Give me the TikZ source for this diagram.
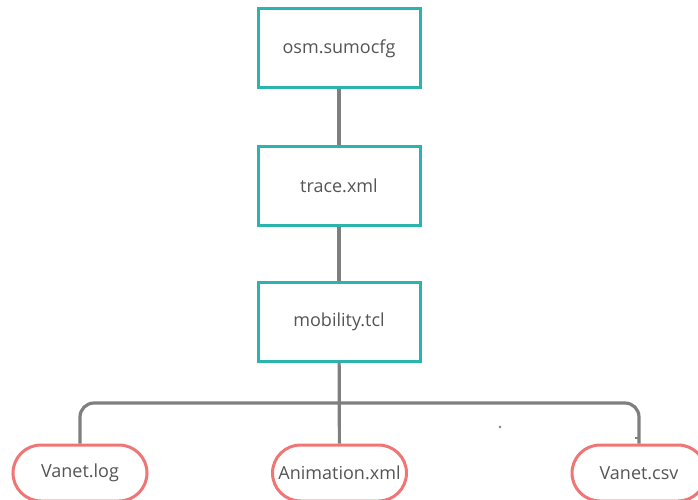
\documentclass[tikz,border=0pt]{standalone}
\usepackage{fontspec}
\setmainfont{Open Sans}
\usetikzlibrary{shapes.misc}
\definecolor{boxteal}{HTML}{2BB3AE}
\definecolor{pillred}{HTML}{F07575}
\definecolor{wirecol}{HTML}{7F7F7F}
\definecolor{labelcol}{HTML}{555555}
\tikzset{
  filebox/.style={draw=boxteal, line width=3pt, fill=white, minimum width=162pt,
    minimum height=79pt, inner sep=0pt, text=labelcol, font=\fontsize{18}{21}\selectfont},
  outpill/.style={rounded rectangle, draw=pillred, line width=3pt, fill=white,
    minimum width=134pt, minimum height=56pt, inner sep=0pt, text=labelcol,
    font=\fontsize{18}{21}\selectfont},
  wire/.style={draw=wirecol, line width=3.2pt}
}
\begin{document}
\begin{tikzpicture}[x=1pt,y=-1pt]
  \useasboundingbox (0,0) rectangle (698,500);
  % processing chain
  \node[filebox] (cfg)   at (339,48.5)  {osm.sumocfg};
  \node[filebox] (trace) at (339,185.5) {trace.xml};
  \node[filebox] (mob)   at (339,321.5) {mobility.tcl};
  % outputs
  \node[outpill] (log)  at (80,473)    {Vanet.log};
  \node[outpill] (anim) at (339.5,473) {Animation.xml};
  \node[outpill] (csv)  at (639,473)   {Vanet.csv};
  \coordinate (split) at (339,403);
  % connectors
  \draw[wire] (cfg) -- (trace);
  \draw[wire] (trace) -- (mob);
  \draw[wire] (mob) -- (anim);
  \draw[wire, rounded corners=14pt] (log.north) |- (split) -| (csv.north);
  % stray marks
  \fill[wirecol] (500,427) circle (1.3);
  \draw[wirecol, line width=1.5pt] (635,438) -- (638,438);
\end{tikzpicture}
\end{document}
